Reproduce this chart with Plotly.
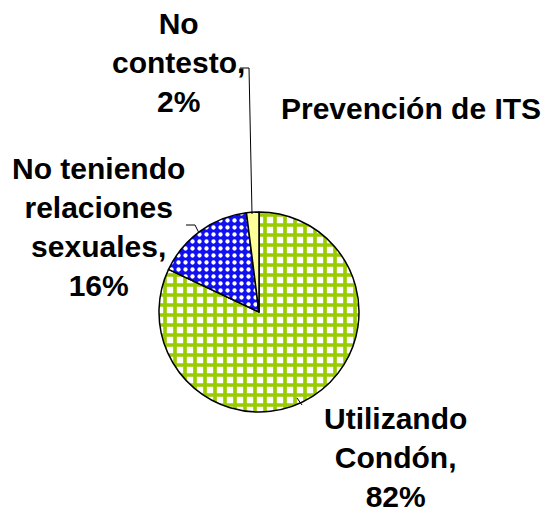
import plotly.graph_objects as go

W, H = 553, 513

# Data
labels = ["Utilizando Condón", "No teniendo relaciones sexuales", "No contesto"]
values = [82, 16, 2]
label_lines = [["Utilizando", "Condón,"], ["No teniendo", "relaciones", "sexuales,"], ["No", "contesto,"]]
title_text = "Prevención de ITS"

def px(x):
    return x / W

def py(y):
    return 1 - y / H

fig = go.Figure()
fig.add_trace(go.Pie(
    labels=labels,
    values=values,
    sort=False,
    direction="clockwise",
    rotation=0,
    textinfo="none",
    hoverinfo="label+percent",
    showlegend=False,
    domain=dict(x=[px(159), px(359)], y=[py(412), py(212)]),
    marker=dict(
        colors=["#99CC00", "#0000FF", "#FFFF99"],
        line=dict(color="black", width=1.5),
        pattern=dict(
            shape=["+", ".", ""],
            fgcolor=["#99CC00", "#FFFFFF", "#FFFF99"],
            bgcolor=["#FFFFFF", "#1010F0", "#FFFF99"],
            size=[10, 7, 8],
            solidity=[0.6, 0.3, 0.3],
            fillmode="replace",
        ),
    ),
))

font = dict(family="Liberation Sans, Arial, sans-serif", size=30, color="black")
total = sum(values)
label_pos = [(395, 457), (98, 227), (178, 62)]
annotations = []
for lines, v, (x, y) in zip(label_lines, values, label_pos):
    txt = "<b>" + "<br>".join(lines + [f"{round(100 * v / total)}%"]) + "</b>"
    annotations.append(dict(
        x=px(x), y=py(y), xref="paper", yref="paper",
        text=txt, showarrow=False, xanchor="center", yanchor="middle",
        align="center", font=font,
    ))
annotations.append(dict(
    x=px(411), y=py(108), xref="paper", yref="paper",
    text=f"<b>{title_text}</b>", showarrow=False, xanchor="center", yanchor="middle",
    font=font,
))

def seg_path(pts):
    return "M " + " L ".join(f"{px(a)},{py(b)}" for a, b in pts)

leaders = [
    [(240, 68), (249, 68), (252, 214)],
    [(186, 225), (195, 225), (199, 233)],
    [(297, 398), (302, 405)],
]
shapes = [dict(type="path", xref="paper", yref="paper", path=seg_path(p),
               line=dict(color="black", width=1)) for p in leaders]

fig.update_layout(
    width=W, height=H,
    margin=dict(l=0, r=0, t=0, b=0),
    paper_bgcolor="white",
    plot_bgcolor="white",
    annotations=annotations,
    shapes=shapes,
)

fig.write_html(
    "out.html",
    config={"displayModeBar": False},
    post_script="document.body.style.margin='0';document.body.style.overflow='hidden';",
)
